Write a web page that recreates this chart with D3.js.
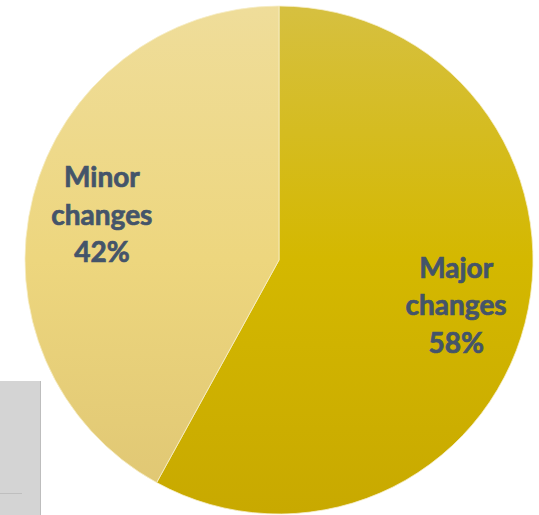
<!DOCTYPE html>
<html>
<head>
<meta charset="utf-8">
<script src="https://cdn.jsdelivr.net/npm/d3@7"></script>
<style>
  html, body { margin: 0; padding: 0; background: #ffffff; }
  svg { display: block; }
</style>
</head>
<body>
<svg id="chart" width="539" height="515"></svg>
<script>
// Share of changes by type
const categories = ["Major changes", "Minor changes"];
const values = [58, 42];
const labelLines = [["Major", "changes", "58%"], ["Minor", "changes", "42%"]];

const width = 539, height = 515;
const cx = 279, cy = 260, radius = 254;

const svg = d3.select("#chart");
const defs = svg.append("defs");

// Vertical gradients spanning the whole pie for each slice
const gradStops = [
  [["0%", "#D6C040"], ["50%", "#D4B800"], ["100%", "#C8A900"]],
  [["0%", "#EFDD9A"], ["50%", "#EDD67E"], ["100%", "#DFC673"]]
];
gradStops.forEach((stops, i) => {
  const g = defs.append("linearGradient")
    .attr("id", "slice-grad-" + i)
    .attr("gradientUnits", "userSpaceOnUse")
    .attr("x1", 0).attr("y1", -radius)
    .attr("x2", 0).attr("y2", radius);
  stops.forEach(([off, col]) => g.append("stop").attr("offset", off).attr("stop-color", col));
});

// Small grey panel in the lower-left corner
const panel = svg.append("g");
panel.append("rect").attr("x", 0).attr("y", 381).attr("width", 41).attr("height", 134)
  .attr("fill", "#D4D4D4");
panel.append("line").attr("x1", 40.5).attr("x2", 40.5).attr("y1", 381).attr("y2", 515)
  .attr("stroke", "#BDBDBD").attr("stroke-width", 1);
panel.append("line").attr("x1", 0).attr("x2", 22).attr("y1", 493.5).attr("y2", 493.5)
  .attr("stroke", "#BFBFBF").attr("stroke-width", 1);

const pie = d3.pie().sort(null).value(d => d)(values);
const arc = d3.arc().innerRadius(0).outerRadius(radius);

const g = svg.append("g").attr("transform", `translate(${cx},${cy})`);

g.selectAll("path.slice")
  .data(pie)
  .join("path")
  .attr("class", "slice")
  .attr("d", arc)
  .attr("fill", (d, i) => `url(#slice-grad-${i})`)
  .attr("stroke", "#F6EEC8")
  .attr("stroke-width", 0.8);

// Labels placed along each slice's mid-angle
const labelRadius = radius * 0.72;
const lineGap = 37.5;
g.selectAll("text.label")
  .data(pie)
  .join("text")
  .attr("class", "label")
  .attr("text-anchor", "middle")
  .attr("font-family", "Lato, 'Open Sans', sans-serif")
  .attr("font-weight", 700)
  .attr("font-size", 28)
  .attr("fill", "#44546A")
  .attr("stroke", "#44546A")
  .attr("stroke-width", 0.7)
  .each(function (d, i) {
    const a = (d.startAngle + d.endAngle) / 2;
    const x = Math.sin(a) * labelRadius;
    const y = -Math.cos(a) * labelRadius;
    const lines = labelLines[i];
    const t = d3.select(this);
    lines.forEach((ln, k) => {
      t.append("tspan")
        .attr("x", x)
        .attr("y", y + (k - (lines.length - 1) / 2) * lineGap + 10)
        .text(ln);
    });
  });
</script>
</body>
</html>
